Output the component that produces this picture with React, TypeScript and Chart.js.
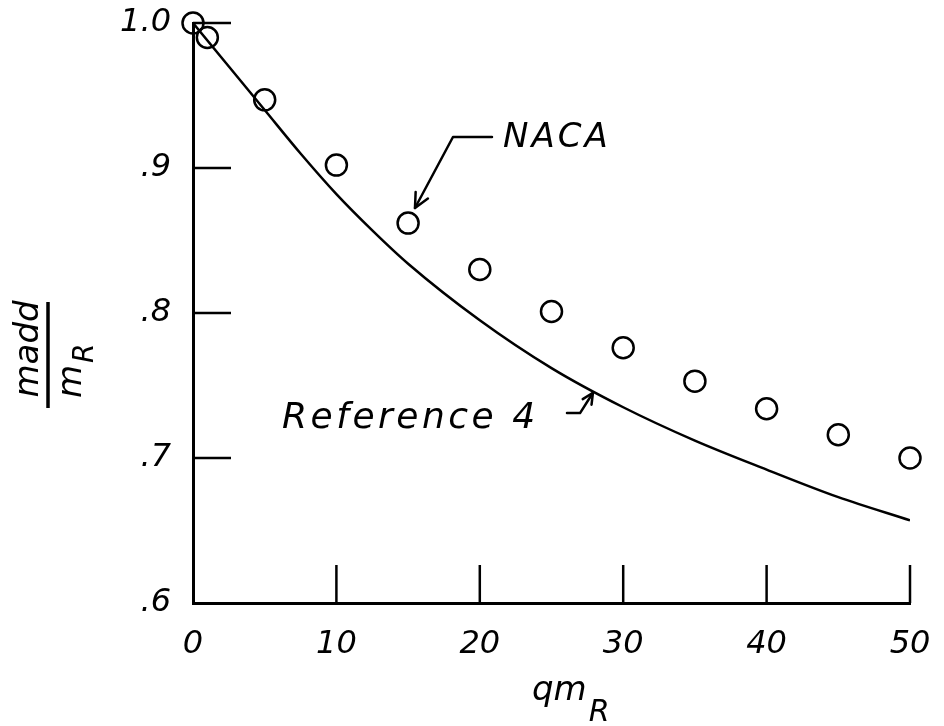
import React, { useEffect, useRef } from 'react';
import { Chart, registerables } from 'chart.js';

Chart.register(...registerables);

// NACA test points (open circles)
const nacaX = [0, 1, 5, 10, 15, 20, 25, 30, 35, 40, 45, 50];
const nacaY = [1.0, 0.99, 0.947, 0.902, 0.862, 0.83, 0.801, 0.776, 0.753, 0.734, 0.716, 0.7];

// Reference 4 curve
const refX = [0, 2.5, 5, 7.5, 10, 12.5, 15, 20, 25, 30, 35, 40, 45, 50];
const refY = [1.0, 0.97, 0.94, 0.91, 0.882, 0.857, 0.834, 0.795, 0.762, 0.735, 0.712, 0.692, 0.673, 0.657];

// Axis ticks
const xTickValues = [0, 10, 20, 30, 40, 50];
const xTickLabels = ['0', '10', '20', '30', '40', '50'];
const yTickValues = [0.6, 0.7, 0.8, 0.9, 1.0];
const yTickLabels = ['.6', '.7', '.8', '.9', '1.0'];

const nacaLabel = 'NACA';
const refLabel = 'Reference 4';
const xTitleMain = 'qm';
const xTitleSub = 'R';
const yTitleNum = 'madd';
const yTitleDenMain = 'm';
const yTitleDenSub = 'R';

const FONT = '"DejaVu Sans", sans-serif';

function arrowPath(ctx: CanvasRenderingContext2D, pts: number[][], head: number) {
  ctx.beginPath();
  ctx.moveTo(pts[0][0], pts[0][1]);
  for (let i = 1; i < pts.length; i++) ctx.lineTo(pts[i][0], pts[i][1]);
  ctx.stroke();
  const [tx, ty] = pts[pts.length - 1];
  const [px, py] = pts[pts.length - 2];
  const ang = Math.atan2(ty - py, tx - px);
  ctx.beginPath();
  ctx.moveTo(tx - head * Math.cos(ang - 0.45), ty - head * Math.sin(ang - 0.45));
  ctx.lineTo(tx, ty);
  ctx.lineTo(tx - head * Math.cos(ang + 0.45), ty - head * Math.sin(ang + 0.45));
  ctx.stroke();
}

const inwardTicks = {
  id: 'inwardTicks',
  beforeDatasetsDraw(chart: any) {
    const { ctx, chartArea, scales } = chart;
    const x = scales.x;
    const y = scales.y;
    ctx.save();
    ctx.strokeStyle = '#000';
    ctx.lineWidth = 2.5;
    yTickValues.forEach((v) => {
      if (v === y.min) return;
      const py = y.getPixelForValue(v);
      ctx.beginPath();
      ctx.moveTo(chartArea.left, py);
      ctx.lineTo(chartArea.left + 38, py);
      ctx.stroke();
    });
    xTickValues.forEach((v) => {
      if (v === x.min) return;
      const px = x.getPixelForValue(v);
      ctx.beginPath();
      ctx.moveTo(px, chartArea.bottom);
      ctx.lineTo(px, chartArea.bottom - 38);
      ctx.stroke();
    });
    ctx.restore();
  },
};

const annotations = {
  id: 'annotations',
  afterDraw(chart: any) {
    const { ctx, chartArea, scales } = chart;
    const x = scales.x;
    const y = scales.y;
    const P = (a: number, b: number) => [x.getPixelForValue(a), y.getPixelForValue(b)];
    ctx.save();
    ctx.fillStyle = '#000';
    ctx.strokeStyle = '#000';
    ctx.lineWidth = 2.5;
    ctx.lineCap = 'round';
    ctx.lineJoin = 'round';

    // NACA label + leader
    ctx.font = `italic 34px ${FONT}`;
    ctx.textAlign = 'left';
    ctx.textBaseline = 'alphabetic';
    (ctx as any).letterSpacing = '3px';
    const np = P(21.62, 0.9145);
    ctx.fillText(nacaLabel, np[0], np[1]);
    arrowPath(ctx, [P(20.85, 0.9214), P(18.13, 0.9214), P(15.48, 0.8724)], 16);

    // Reference 4 label + leader
    ctx.font = `italic 36px ${FONT}`;
    (ctx as any).letterSpacing = '3.5px';
    const rp = P(6.21, 0.7207);
    ctx.fillText(refLabel, rp[0], rp[1]);
    arrowPath(ctx, [P(26.08, 0.731), P(26.99, 0.731), P(27.89, 0.745)], 12);
    (ctx as any).letterSpacing = '0px';

    // X title: qm_R
    const xl = chartArea.left + 339;
    const xb = chartArea.bottom + 97;
    ctx.font = `italic 34px ${FONT}`;
    ctx.fillText(xTitleMain, xl, xb);
    const w = ctx.measureText(xTitleMain).width;
    ctx.font = `italic 30px ${FONT}`;
    ctx.fillText(xTitleSub, xl + w + 2, xb + 21);

    // Y title: madd / mR (rotated fraction)
    ctx.translate(chartArea.left - 145, chartArea.top + 332);
    ctx.rotate(-Math.PI / 2);
    ctx.lineWidth = 3.5;
    ctx.lineCap = 'butt';
    ctx.beginPath();
    ctx.moveTo(-53, 0);
    ctx.lineTo(53, 0);
    ctx.stroke();
    ctx.font = `italic 34px ${FONT}`;
    ctx.textAlign = 'center';
    ctx.fillText(yTitleNum, 6, -10);
    ctx.textAlign = 'left';
    ctx.fillText(yTitleDenMain, -43, 33);
    const mw = ctx.measureText(yTitleDenMain).width;
    ctx.font = `italic 28px ${FONT}`;
    ctx.fillText(yTitleDenSub, -43 + mw + 2, 45);
    ctx.restore();
  },
};

export default function App() {
  const ref = useRef<HTMLCanvasElement | null>(null);
  useEffect(() => {
    document.body.style.margin = '0';
    const canvas = ref.current;
    if (!canvas) return;
    const chart = new Chart(canvas, {
      type: 'scatter',
      data: {
        datasets: [
          {
            label: 'Reference 4',
            data: refX.map((v, i) => ({ x: v, y: refY[i] })),
            showLine: true,
            borderColor: '#000',
            borderWidth: 2.5,
            pointRadius: 0,
            cubicInterpolationMode: 'monotone',
            fill: false,
          } as any,
          {
            label: 'NACA',
            data: nacaX.map((v, i) => ({ x: v, y: nacaY[i] })),
            showLine: false,
            pointStyle: 'circle',
            pointRadius: 10.5,
            pointBorderWidth: 2.5,
            borderColor: '#000',
            pointBorderColor: '#000',
            pointBackgroundColor: 'rgba(0,0,0,0)',
            backgroundColor: 'rgba(0,0,0,0)',
            clip: false,
          } as any,
        ],
      },
      options: {
        responsive: false,
        animation: false,
        layout: { padding: { top: 23, right: 34, left: 0, bottom: 0 } },
        plugins: {
          legend: { display: false },
          tooltip: { enabled: false },
          title: { display: false },
        },
        scales: {
          x: {
            type: 'linear',
            min: 0,
            max: 50,
            afterBuildTicks: (s: any) => {
              s.ticks = xTickValues.map((v) => ({ value: v }));
            },
            afterFit: (s: any) => {
              s.height = 123;
              s.paddingLeft = 0;
              s.paddingRight = 0;
              s.paddingTop = 0;
              s.paddingBottom = 0;
            },
            ticks: {
              callback: (_v: any, i: number) => xTickLabels[i],
              color: '#000',
              padding: 22,
              maxRotation: 0,
              autoSkip: false,
              font: { family: FONT, size: 32, style: 'italic' },
            },
            grid: { drawOnChartArea: false, drawTicks: false },
            border: { display: true, color: '#000', width: 3 },
          },
          y: {
            type: 'linear',
            min: 0.6,
            max: 1.0,
            afterBuildTicks: (s: any) => {
              s.ticks = yTickValues.map((v) => ({ value: v }));
            },
            afterFit: (s: any) => {
              s.width = 193;
              s.paddingLeft = 0;
              s.paddingRight = 0;
              s.paddingTop = 0;
              s.paddingBottom = 0;
            },
            ticks: {
              callback: (_v: any, i: number) => yTickLabels[i],
              color: '#000',
              padding: 22,
              autoSkip: false,
              font: { family: FONT, size: 32, style: 'italic' },
            },
            grid: { drawOnChartArea: false, drawTicks: false },
            border: { display: true, color: '#000', width: 3 },
          },
        },
      } as any,
      plugins: [inwardTicks, annotations],
    });
    return () => chart.destroy();
  }, []);
  return (
    <div style={{ width: 944, height: 726, background: '#fff' }}>
      <canvas ref={ref} width={944} height={726} style={{ display: 'block' }} />
    </div>
  );
}
